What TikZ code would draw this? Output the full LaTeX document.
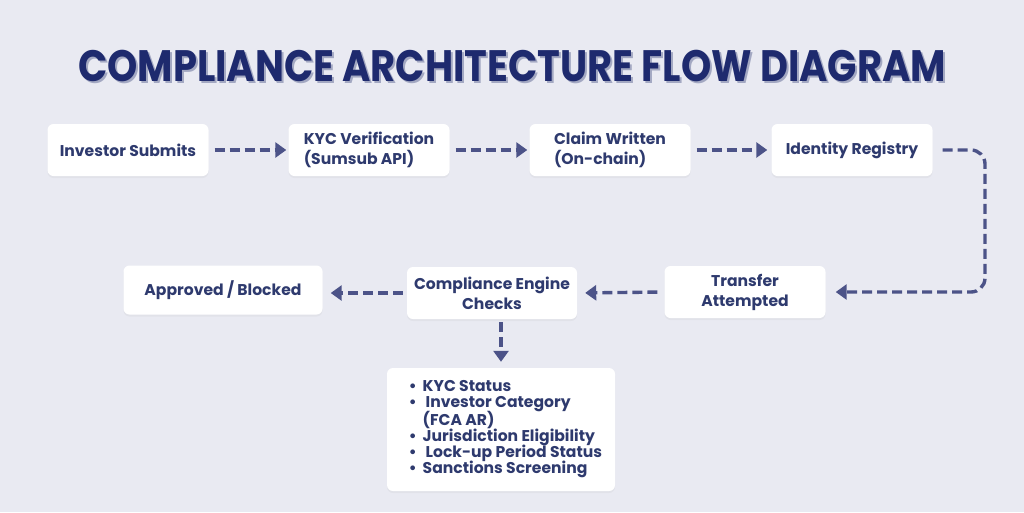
\documentclass[tikz,border=0pt]{standalone}
\usepackage{fontspec}
\setmainfont{Poppins}
\usetikzlibrary{arrows.meta,shadows,calc}
\definecolor{bg}{HTML}{E9EAF2}
\definecolor{txt}{HTML}{2E3A6E}
\definecolor{arr}{HTML}{4C5388}
\definecolor{ttl}{HTML}{1E2A6E}
\definecolor{ttlshadow}{HTML}{A3A8C2}
\begin{document}
\begin{tikzpicture}[x=1pt,y=-1pt,
  box/.style={fill=white, rounded corners=6pt, minimum width=161pt, minimum height=52pt,
    inner sep=0pt, font=\bfseries\fontsize{15.6}{20}\selectfont, text=txt, align=center,
    drop shadow={opacity=0.07, shadow xshift=0pt, shadow yshift=-2pt}},
  flow/.style={draw=arr, line width=3.4pt, dash pattern=on 10pt off 5pt,
    -{Triangle[length=11pt,width=15pt]}}
]
\fill[bg] (0,0) rectangle (1024,512);
\useasboundingbox (0,0) rectangle (1024,512);

% title
\node[text=ttlshadow, font=\bfseries\fontsize{44}{50}\selectfont] (tsh) at (514,68)
  {\scalebox{0.875}[1]{COMPLIANCE ARCHITECTURE FLOW DIAGRAM}};
\node[text=ttl, font=\bfseries\fontsize{44}{50}\selectfont] (title) at (512,66)
  {\scalebox{0.875}[1]{COMPLIANCE ARCHITECTURE FLOW DIAGRAM}};

% top row
\node[box] (inv) at (128,150) {Investor Submits};
\node[box, align=left] (kyc) at (369,150) {KYC Verification\\(Sumsub API)};
\node[box, align=left] (clm) at (610,150) {Claim Written\\(On-chain)};
\node[box] (idr) at (852,150) {Identity Registry};

% second row
\node[box] (ta) at (745,292) {Transfer\\Attempted};
\node[box, minimum width=170pt] (cec) at (492,293) {Compliance Engine\\Checks};
\node[box, minimum width=199pt, minimum height=49pt] (apb) at (223,290) {Approved / Blocked};

% bullet box
\node[box, minimum width=228pt, minimum height=123pt, align=left] (bul) at (501,429.5)
  {\hspace*{9pt}\fontsize{15.6}{16.4}\selectfont
   \begin{tabular}{@{}l@{\hspace{6pt}}l@{}}
   \textbullet & KYC Status\\[-1.2pt]
   \textbullet & \hspace{3pt}Investor Category\\[-1.2pt]
               & (FCA AR)\\[-1.2pt]
   \textbullet & Jurisdiction Eligibility\\[-1.2pt]
   \textbullet & \hspace{3pt}Lock-up Period Status\\[-1.2pt]
   \textbullet & Sanctions Screening
   \end{tabular}};

% connectors
\draw[flow, shorten <=6pt, shorten >=2pt] (inv.east) -- (kyc.west);
\draw[flow, shorten <=6pt, shorten >=2pt] (kyc.east) -- (clm.west);
\draw[flow, shorten <=6pt, shorten >=4pt] (clm.east) -- (idr.west);
\coordinate (loop) at (985,150);
\draw[flow, rounded corners=14pt, shorten <=10pt, shorten >=10pt] (idr.east) -- (loop) |- (ta.east);
\draw[flow, shorten <=7pt, shorten >=8pt] (ta.west) -- (cec.west -| cec.east);
\draw[flow, shorten <=4pt, shorten >=8pt] (cec.west) -- (cec.west -| apb.east);
\draw[flow, shorten <=3pt, shorten >=6pt] (cec.south -| bul.north) -- (bul.north);
\end{tikzpicture}
\end{document}
